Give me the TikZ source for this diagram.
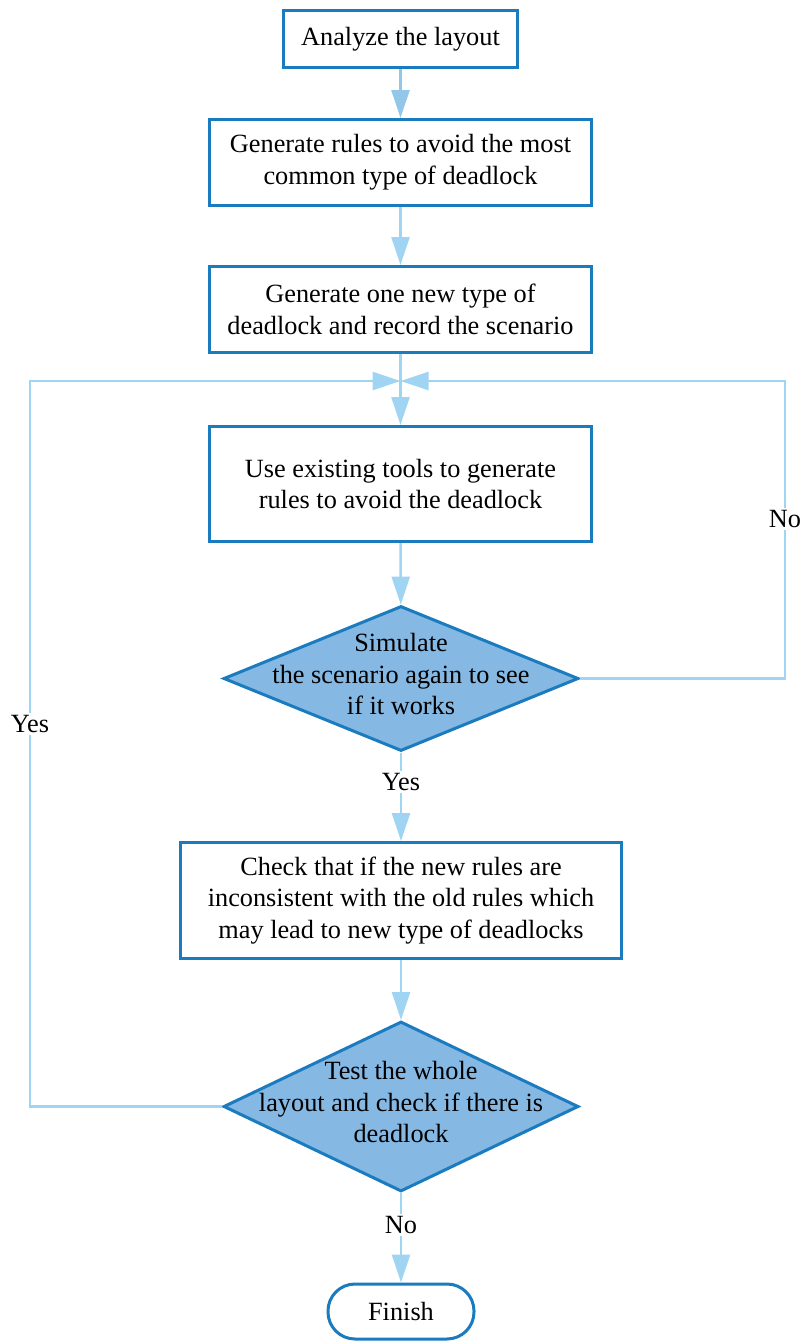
\documentclass[tikz,border=0pt]{standalone}
\usepackage{fontspec}
\setmainfont{Liberation Serif}
\usetikzlibrary{shapes.geometric,arrows.meta}
\definecolor{boxblue}{HTML}{1A7BBF}
\definecolor{lineblue}{HTML}{A0D4F3}
\definecolor{fillblue}{HTML}{85B8E3}
\tikzset{
  stepbox/.style={draw=boxblue, line width=3pt, fill=white, align=center, inner sep=0pt, minimum width=382pt, minimum height=86pt},
  decision/.style={diamond, draw=boxblue, line width=3pt, fill=fillblue, inner sep=0pt, minimum width=355pt, minimum height=145pt},
  terminal/.style={draw=boxblue, line width=3pt, fill=white, rounded corners=27pt, minimum width=146pt, minimum height=55pt},
  flow/.style={draw=lineblue, line width=2.5pt, -{Triangle[length=28pt,width=18pt]}},
  tag/.style={fill=white, inner sep=2pt}
}
\begin{document}
\begin{tikzpicture}[x=1pt, y=-1pt, every node/.style={font=\fontsize{26.3}{31.6}\selectfont}]
\useasboundingbox (0,0) rectangle (804,1342);
\node[stepbox, minimum width=234pt, minimum height=57pt] (analyze) at (400.5,39) {Analyze the layout};
\node[stepbox] (common) at (400.5,162.5) {Generate rules to avoid the most\\common type of deadlock};
\node[stepbox] (newtype) at (400.5,309.5) {Generate one new type of\\deadlock and record the scenario};
\node[stepbox, minimum height=115pt] (tools) at (400.5,484) {Use existing tools to generate\\rules to avoid the deadlock};
\node[decision] (simulate) at (401,678.5) {};
\node[align=center] (simtext) at (401,674) {Simulate\\the scenario again to see\\if it works};
\node[stepbox, minimum width=441pt, minimum height=116pt] (check) at (401,900.5) {Check that if the new rules are\\inconsistent with the old rules which\\may lead to new type of deadlocks};
\node[decision, minimum height=170pt] (test) at (401,1106.5) {};
\node[align=center] (testtext) at (401,1102) {Test the whole\\layout and check if there is\\deadlock};
\node[terminal] (finish) at (401,1311.5) {Finish};

\coordinate (J) at (400.5,381);
\coordinate (L) at (30,381);
\coordinate (R) at (785,381);

\draw[flow, draw=lineblue!70!boxblue!80] (analyze) -- (common);
\draw[flow] (common) -- (newtype);
\draw[flow] (newtype) -- (tools);
\draw[flow] (tools) -- (simulate);
\draw[flow] (simulate) -- (check);
\draw[flow] (check) -- (test);
\draw[flow] (test) -- (finish);
\draw[flow] (test.west) -| (L) -- (J);
\draw[flow] (simulate.east) -| (R) -- (J);

\node[tag] (no1) at (785,519) {No};
\node[tag] (yes1) at (30,724) {Yes};
\node[tag] (yes2) at (401,782) {Yes};
\node[tag] (no2) at (401,1225) {No};
\end{tikzpicture}
\end{document}
